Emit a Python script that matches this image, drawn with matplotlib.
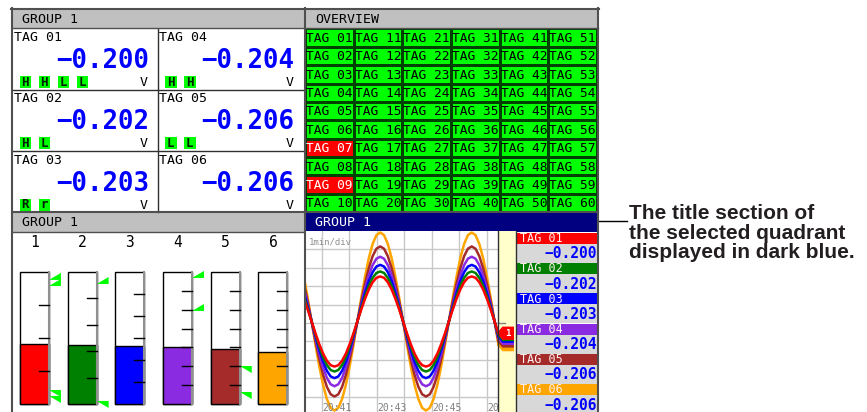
import numpy as np
import matplotlib.pyplot as plt
from matplotlib.patches import Rectangle, Polygon
from matplotlib.colors import ListedColormap

W, H = 867, 412

# GROUP 1 tags (digital / bar / trend)
tag_names = ['TAG 01', 'TAG 02', 'TAG 03', 'TAG 04', 'TAG 05', 'TAG 06']
tag_values = [-0.200, -0.202, -0.203, -0.204, -0.206, -0.206]
tag_alarms = [['H', 'H', 'L', 'L'], ['H', 'L'], ['R', 'r'], ['H', 'H'], ['L', 'L'], []]
tag_colors = ['#ff0000', '#008000', '#0000ff', '#8a2be2', '#a52a2a', '#ffa500']
unit = 'V'

# overview: 60 tags, those in alarm shown red
overview_rows, overview_cols = 10, 6
overview_alarm_tags = [7, 9]

# bar graph: fill level (fraction of scale), scale divisions, alarm marks
bar_levels = [0.455, 0.447, 0.440, 0.432, 0.417, 0.394]
bar_divisions = [4, 5, 6, 7, 7, 7]
bar_alarm_marks = [[('H', 0.94), ('H', 0.894), ('L', 0.106), ('L', 0.061)],
                   [('H', 0.909), ('L', 0.023)],
                   [],
                   [('H', 0.955), ('H', 0.705)],
                   [('L', 0.288), ('L', 0.091)],
                   []]

# trend: shape of the waveform (normalised), per tag amplitude in divisions
wave_shape = [0.5, 0.26, 0, -0.26, -0.5, -0.71, -0.87, -0.97, -1, -0.97, -0.87, -0.71,
              -0.5, -0.26, 0, 0.26, 0.5, 0.71, 0.87, 0.97, 1, 0.97, 0.87, 0.71,
              0.5, 0.26, 0, -0.26, -0.5, -0.71, -0.87, -0.97, -1, -0.97, -0.87, -0.71,
              -0.5, -0.26, 0, 0.26, 0.5, 0.71, 0.87, 0.97, 1, 0.97, 0.87, 0.71,
              0.5, 0.26, 0, -0.26]
wave_amplitude = [2.45, 2.72, 3.08, 3.52, 4.08, 4.84]
wave_center = 0.08
sample_start = 0.356   # minutes after 20:40
sample_step = 0.1386   # minutes per sample
time_labels = ['20:41', '20:43', '20:45', '20:47']
time_label_min = [1, 3, 5, 7]

annotation = ['The title section of', 'the selected quadrant', 'displayed in dark blue.']

plt.rcParams['font.family'] = 'DejaVu Sans Mono'
TITLE_GRAY = '#c0c0c0'
FRAME = '#505050'


def box(x0, y0, x1, y1):
    return [x0 / W, 1 - y1 / H, (x1 - x0) / W, (y1 - y0) / H]


fig = plt.figure(figsize=(W / 100, H / 100), dpi=100)

base = fig.add_axes([0, 0, 1, 1])
base.set_xlim(0, W)
base.set_ylim(H, 0)
base.axis('off')

# title bars
for (x0, y0, label, fc, tc) in [(12, 9, 'GROUP 1', TITLE_GRAY, 'black'),
                                (305, 9, 'OVERVIEW', TITLE_GRAY, 'black'),
                                (12, 212, 'GROUP 1', TITLE_GRAY, 'black'),
                                (305, 212, 'GROUP 1', '#000080', 'white')]:
    base.add_patch(Rectangle((x0, y0), 292, 19.5, fc=fc, ec='none'))
    base.text(x0 + 10, y0 + 10, label, ha='left', va='center', fontsize=9.5, color=tc)

# digital panel
cell_w, cell_h = 145.5, 61.3
for i, name in enumerate(tag_names):
    x0 = 12 + (i // 3) * cell_w
    y0 = 28.5 + (i % 3) * cell_h
    base.text(x0 + 1.5, y0 + 9, name, ha='left', va='center', fontsize=9.5)
    val = f'{tag_values[i]:.3f}'.replace('-', '\u2212')
    base.text(x0 + 137, y0 + 39.5, val, ha='right', va='baseline', fontsize=18.5,
              fontweight='bold', color='#0000ff')
    for j, a in enumerate(tag_alarms[i]):
        bx = x0 + 7.5 + 19 * j
        base.add_patch(Rectangle((bx, y0 + 47.5), 11.5, 12, fc='#00ff00', ec='none'))
        base.text(bx + 5.75, y0 + 53.8, a, ha='center', va='center', fontsize=9,
                  fontweight='bold', color='#002000')
    base.text(x0 + 136, y0 + 54, unit, ha='right', va='center', fontsize=9.5)
base.plot([157.5, 157.5], [28.5, 212], color='#303030', lw=1)
for yy in [89.8, 151.1]:
    base.plot([12, 304], [yy, yy], color='#303030', lw=1)

# yellow strip and tag list of trend
base.add_patch(Rectangle((498, 231), 17.5, H - 231, fc='#ffffcc', ec='none'))
for i, name in enumerate(tag_names):
    hy = 233 + 30.2 * i
    base.add_patch(Rectangle((516, hy), 81, 11, fc=tag_colors[i], ec='none'))
    base.text(520, hy + 5.8, name, ha='left', va='center', fontsize=8.5, color='#fff0f0')
    base.add_patch(Rectangle((516, hy + 11), 81, 19, fc='#d8d8d8', ec='none'))
    val = f'{tag_values[i]:.3f}'.replace('-', '\u2212')
    base.text(597, hy + 21, val, ha='right', va='center', fontsize=10.5,
              fontweight='bold', color='#0000ff')

# annotation on the right
base.plot([598, 627], [221, 221], color='black', lw=1)
for k, line in enumerate(annotation):
    base.text(629, 219 + 19.5 * k, line, ha='left', va='baseline', fontsize=15,
              fontweight='bold', family='Liberation Sans', color='#231f20')

# overview
ov = fig.add_axes(box(305, 28.5, 597, 212))
status = np.zeros((overview_rows, overview_cols))
for t in overview_alarm_tags:
    status[(t - 1) % overview_rows, (t - 1) // overview_rows] = 1
ov.pcolormesh(status, cmap=ListedColormap(['#00ff00', '#ff0000']), vmin=0, vmax=1,
              edgecolors='#004000', linewidth=0.8)
for c in range(overview_cols):
    for r in range(overview_rows):
        n = c * overview_rows + r + 1
        ov.text(c + 0.5, r + 0.55, f'TAG {n:02d}', ha='center', va='center', fontsize=9.3,
                color='white' if status[r, c] else 'black')
ov.set_xlim(0, overview_cols)
ov.set_ylim(overview_rows, 0)
ov.axis('off')

# bar graph
bx_ax = fig.add_axes(box(12, 232, 304, H))
x = np.arange(len(bar_levels))
bw = 0.608
bx_ax.bar(x, 1, width=bw, bottom=0, color='white', edgecolor='black', lw=1)
bx_ax.bar(x, bar_levels, width=bw, color=tag_colors, edgecolor='black', lw=1)
for i in x:
    xr = i + bw / 2
    bx_ax.plot([xr, xr], [0, 1], color='#909090', lw=1.5)
    n = bar_divisions[i]
    for k in range(1, n):
        bx_ax.plot([xr - 0.21, xr], [k / n, k / n], color='black', lw=1)
    bx_ax.text(i, 1.22, str(i + 1), ha='center', va='center', fontsize=10.5)
    for kind, lv in bar_alarm_marks[i]:
        dy = 0.053 if kind == 'H' else -0.053
        bx_ax.add_patch(Polygon([(xr, lv), (xr + 0.25, lv + dy), (xr + 0.25, lv)],
                                closed=True, fc='#00ff00', ec='none', clip_on=False))
bx_ax.set_xlim(-0.472, 5.65)
bx_ax.set_ylim(-0.0606, 1.303)
bx_ax.axis('off')

# trend
tr = fig.add_axes(box(305, 231, 498, H))
t = sample_start + sample_step * np.arange(len(wave_shape))
shape = np.array(wave_shape)
for i in reversed(range(len(tag_names))):
    tr.plot(t, wave_center + wave_amplitude[i] * shape, color=tag_colors[i], lw=1.8)
tr.set_xlim(0.393, 7.41)
tr.set_ylim(-4.84, 5.0)
tr.set_xticks(range(1, 8))
tr.set_yticks(range(-4, 5))
tr.grid(True, color='#c8c8c8', lw=1)
tr.tick_params(length=0, labelbottom=False, labelleft=False)
for s in tr.spines.values():
    s.set_visible(False)
tr.set_axisbelow(True)
tr.text(0.02, 0.965, '1min/div', transform=tr.transAxes, ha='left', va='top',
        fontsize=6.5, color='#909090')
for tm, lab in zip(time_label_min, time_labels):
    tr.text(tm + 0.03, -4.6, lab, ha='left', va='center', fontsize=7, color='#808080',
            clip_on=True)

# pointers in the strip at each tag's latest value
tip = 7.37
tr.plot([7.41, 7.66], [0, 0], color='#808080', lw=1, clip_on=False)
for i in reversed(range(len(tag_names))):
    yv = wave_center + wave_amplitude[i] * shape[-1]
    pts = [(tip, yv), (tip + 0.2, yv + 0.36), (tip + 0.62, yv + 0.36),
           (tip + 0.62, yv - 0.36), (tip + 0.2, yv - 0.36)]
    tr.add_patch(Polygon(pts, closed=True, fc=tag_colors[i], ec='none', clip_on=False,
                         zorder=5))
yv = wave_center + wave_amplitude[0] * shape[-1]
tr.text(tip + 0.4, yv, '1', ha='center', va='center', fontsize=6.5, color='white',
        fontweight='bold', zorder=6, clip_on=False)

# frame lines on top
top = fig.add_axes([0, 0, 1, 1])
top.set_xlim(0, W)
top.set_ylim(H, 0)
top.axis('off')
top.patch.set_alpha(0)
top.plot([11.5, 11.5], [8, H], color=FRAME, lw=1.5)
top.plot([11, 598.5], [8.5, 8.5], color=FRAME, lw=1.5)
top.plot([598, 598], [8, H], color=FRAME, lw=1.5)
top.plot([304.5, 304.5], [8, H], color=FRAME, lw=1.5)
top.plot([12, 598], [28.3, 28.3], color=FRAME, lw=1)
top.plot([12, 598], [212, 212], color=FRAME, lw=1.5)
top.plot([12, 304], [231.8, 231.8], color=FRAME, lw=1)
top.plot([498, 498], [231, H], color='#303030', lw=1)
top.plot([515.5, 515.5], [231, H], color='#303030', lw=1)

fig.savefig('out.png', dpi=100)
